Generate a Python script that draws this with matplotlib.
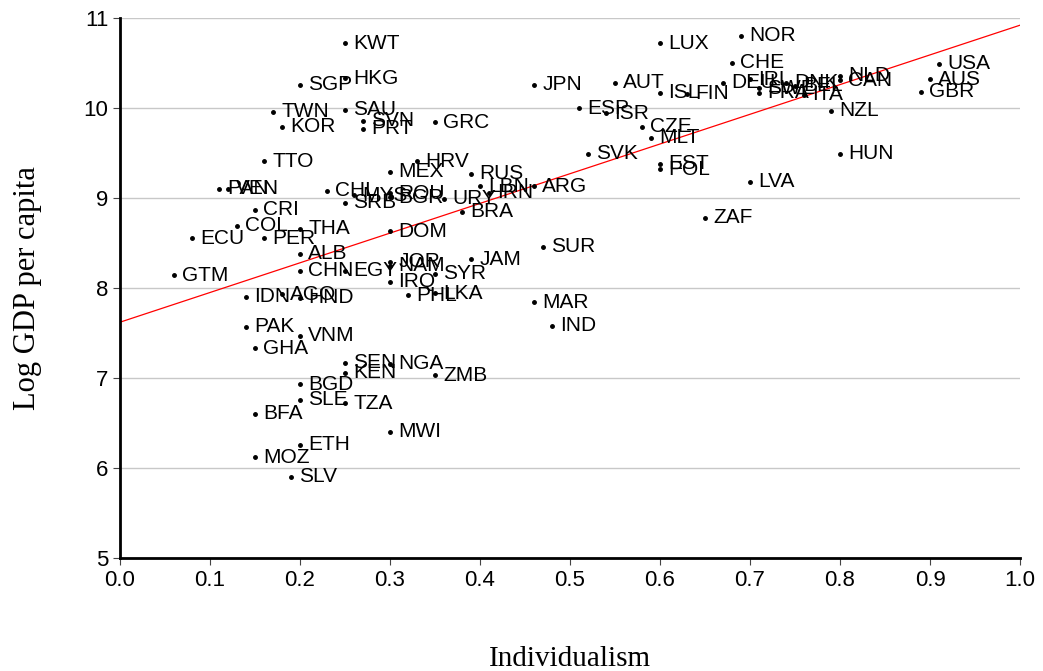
import matplotlib
matplotlib.use("Agg")
import matplotlib.pyplot as plt
import numpy as np

# country codes, individualism score, log GDP per capita
codes = ["KWT", "HKG", "SGP", "SAU", "TWN", "KOR", "SVN", "PRT", "GRC", "JPN",
         "AUT", "ESP", "ISR", "LUX", "NOR", "CHE", "ISL", "FIN", "DEU", "IRL",
         "SWE", "FRA", "BEL", "DNK", "ITA", "NLD", "CAN", "AUS", "USA", "GBR",
         "NZL", "CZE", "MLT", "SVK", "EST", "POL", "HUN", "LVA", "ZAF", "ARG",
         "RUS", "LBN", "IRN", "URY", "BRA", "HRV", "MEX", "CHL", "MYS", "SRB",
         "ROU", "BGR", "PAN", "VEN", "CRI", "COL", "ECU", "PER", "THA", "ALB",
         "CHN", "GTM", "EGY", "JOR", "NAM", "IRQ", "SYR", "JAM", "PHL", "LKA",
         "SUR", "DOM", "MAR", "IND", "IDN", "AGO", "HND", "PAK", "VNM", "GHA",
         "SEN", "KEN", "NGA", "ZMB", "BGD", "SLE", "TZA", "BFA", "MWI", "ETH",
         "MOZ", "SLV", "TTO"]
indiv = [0.25, 0.25, 0.20, 0.25, 0.17, 0.18, 0.27, 0.27, 0.35, 0.46,
         0.55, 0.51, 0.54, 0.60, 0.69, 0.68, 0.60, 0.63, 0.67, 0.70,
         0.71, 0.71, 0.75, 0.74, 0.76, 0.80, 0.80, 0.90, 0.91, 0.89,
         0.79, 0.58, 0.59, 0.52, 0.60, 0.60, 0.80, 0.70, 0.65, 0.46,
         0.39, 0.40, 0.41, 0.36, 0.38, 0.33, 0.30, 0.23, 0.26, 0.25,
         0.30, 0.30, 0.11, 0.12, 0.15, 0.13, 0.08, 0.16, 0.20, 0.20,
         0.20, 0.06, 0.25, 0.30, 0.30, 0.30, 0.35, 0.39, 0.32, 0.35,
         0.47, 0.30, 0.46, 0.48, 0.14, 0.18, 0.20, 0.14, 0.20, 0.15,
         0.25, 0.25, 0.30, 0.35, 0.20, 0.20, 0.25, 0.15, 0.30, 0.20,
         0.15, 0.19, 0.16]
loggdp = [10.72, 10.33, 10.26, 9.98, 9.96, 9.79, 9.86, 9.77, 9.84, 10.26,
          10.28, 10.00, 9.94, 10.72, 10.80, 10.50, 10.17, 10.16, 10.28, 10.32,
          10.22, 10.17, 10.25, 10.28, 10.15, 10.36, 10.31, 10.32, 10.49, 10.18,
          9.97, 9.79, 9.67, 9.49, 9.38, 9.32, 9.49, 9.18, 8.78, 9.13,
          9.27, 9.13, 9.06, 8.99, 8.85, 9.41, 9.29, 9.08, 9.03, 8.95,
          9.05, 9.01, 9.10, 9.10, 8.87, 8.69, 8.55, 8.55, 8.66, 8.38,
          8.19, 8.14, 8.19, 8.29, 8.25, 8.07, 8.16, 8.32, 7.92, 7.94,
          8.46, 8.63, 7.84, 7.58, 7.90, 7.93, 7.89, 7.57, 7.47, 7.33,
          7.17, 7.06, 7.16, 7.03, 6.93, 6.76, 6.72, 6.60, 6.40, 6.26,
          6.12, 5.90, 9.41]

# fitted line
fit_intercept = 7.62
fit_slope = 3.30

plt.rcParams["font.family"] = ["Liberation Sans", "DejaVu Sans"]

fig = plt.figure(figsize=(10.43, 6.71), dpi=100)
ax = fig.add_axes([120/1043, 1 - 558/671, 900/1043, 540/671])

ax.plot(indiv, loggdp, "o", color="black", markersize=2.5, zorder=3)
for c, x, y in zip(codes, indiv, loggdp):
    ax.annotate(c, (x, y), xytext=(6, 0), textcoords="offset points",
                va="center", ha="left", fontsize=15, color="black")

fx = np.array([0.0, 1.0])
ax.plot(fx, fit_intercept + fit_slope * fx, color="red", linewidth=0.9, zorder=2)

ax.set_xlim(0, 1.0)
ax.set_ylim(5, 11)
ax.set_xticks(np.arange(0, 1.01, 0.1))
ax.set_xticklabels(["%.1f" % v for v in np.arange(0, 1.01, 0.1)])
ax.set_yticks(range(5, 12))
ax.tick_params(labelsize=16, length=5, width=0.8, color="#444444")
ax.yaxis.grid(True, color="#c8c8c8", linewidth=1)
ax.set_axisbelow(True)
for s in ["top", "right"]:
    ax.spines[s].set_visible(False)
for s in ["left", "bottom"]:
    ax.spines[s].set_linewidth(2)

ax.set_xlabel("Individualism", family="Liberation Serif", fontsize=21, labelpad=40)
ax.set_ylabel("Log GDP per capita", family="Liberation Serif", fontsize=22, labelpad=30)

plt.savefig("out.png", dpi=100)
